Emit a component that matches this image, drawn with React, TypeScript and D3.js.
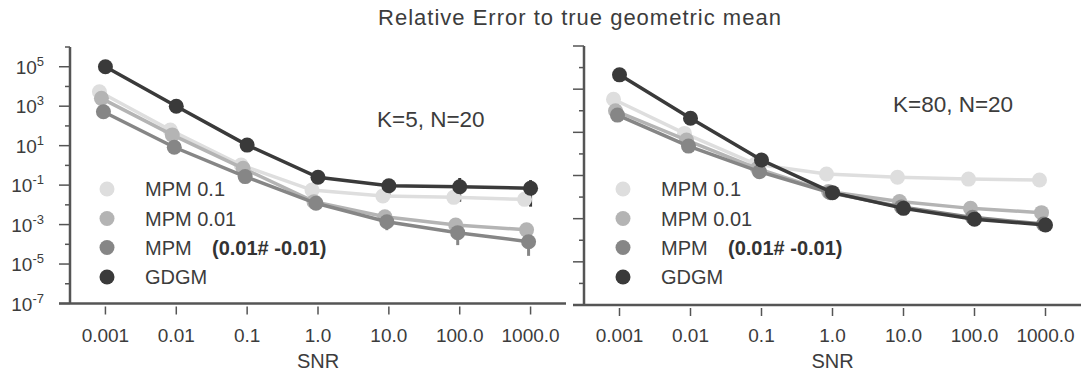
import * as d3 from "d3";
import { useEffect, useRef } from "react";

const snr = ["0.001", "0.01", "0.1", "1.0", "10.0", "100.0", "1000.0"];
const seriesNames = ["MPM 0.1", "MPM 0.01", "MPM", "GDGM"];
const seriesColors = ["#dedede", "#b4b4b4", "#868686", "#3a3a3a"];

// K=5, N=20
const k5Mpm01 = [5.4e3, 62, 1.05, 0.056, 0.028, 0.024, 0.019];
const k5Mpm001 = [2.5e3, 35, 0.71, 0.0145, 0.0025, 9.5e-4, 5.4e-4];
const k5MpmDiff = [525, 8.3, 0.27, 0.012, 1.4e-3, 3.9e-4, 1.35e-4];
const k5Gdgm = [1e5, 1e3, 10.7, 0.25, 0.093, 0.083, 0.069];
const k5GdgmLo = [null, null, null, null, 0.026, 0.0145, 0.0081];
const k5GdgmHi = [null, null, null, null, 0.18, 0.23, 0.18];
const k5DiffLo = [null, null, null, null, 5.2e-4, 9.1e-5, 2.6e-5];
const k5DiffHi = [null, null, null, null, 3.9e-3, 1.7e-3, 5.2e-4];

// K=80, N=20
const k80Mpm01 = [3.4e3, 89, 3.4, 1.17, 0.83, 0.68, 0.62];
const k80Mpm001 = [1e3, 44, 2.1, 0.18, 0.062, 0.03, 0.019];
const k80MpmDiff = [630, 23, 1.5, 0.16, 0.035, 0.0115, 0.0056];
const k80Gdgm = [4.6e4, 450, 5.2, 0.16, 0.03, 0.0095, 0.0051];

const leftExps = [5, 3, 1, -1, -3, -5, -7];

const FONT = "'Liberation Sans', Arial, sans-serif";
const TEXT = "#3c3c3c";
const AXIS = "#555";

type Panel = {
  label: string;
  series: number[][];
  errs: { idx: number; lo: (number | null)[]; hi: (number | null)[] }[];
  x0: number;
  x1: number;
  yTop: number;
  yBot: number;
  domain: [number, number];
  labels: boolean;
  labelPos: [number, number];
  legendX: number;
  boldX: number;
};

const panels: Panel[] = [
  {
    label: "K=5, N=20",
    series: [k5Mpm01, k5Mpm001, k5MpmDiff, k5Gdgm],
    errs: [
      { idx: 3, lo: k5GdgmLo, hi: k5GdgmHi },
      { idx: 2, lo: k5DiffLo, hi: k5DiffHi },
    ],
    x0: 70,
    x1: 566,
    yTop: 47,
    yBot: 303.5,
    domain: [1e-7, 1e6],
    labels: true,
    labelPos: [377, 127],
    legendX: 107,
    boldX: 212,
  },
  {
    label: "K=80, N=20",
    series: [k80Mpm01, k80Mpm001, k80MpmDiff, k80Gdgm],
    errs: [],
    x0: 584,
    x1: 1081,
    yTop: 46,
    yBot: 305,
    domain: [1e-6, 1e6],
    labels: false,
    labelPos: [893, 112],
    legendX: 623,
    boldX: 728,
  },
];

const dodge = [-6, -4, -2, 0];

export default function App() {
  const ref = useRef<SVGSVGElement>(null);

  useEffect(() => {
    if (!ref.current) return;
    const svg = d3.select(ref.current);
    svg.selectAll("*").remove();

    svg
      .append("text")
      .attr("x", 580)
      .attr("y", 25)
      .attr("text-anchor", "middle")
      .attr("font-size", 22)
      .attr("letter-spacing", 1)
      .attr("fill", TEXT)
      .text("Relative Error to true geometric mean");

    panels.forEach((p) => {
      const g = svg.append("g");
      const x = d3.scalePoint<string>().domain(snr).range([p.x0, p.x1]).padding(0.5);
      const y = d3.scaleLog().domain(p.domain).range([p.yBot, p.yTop]);
      const lo = Math.round(Math.log10(p.domain[0]));
      const hi = Math.round(Math.log10(p.domain[1]));
      const exps = d3.range(lo, hi + 1);
      const isMajor = (e: number) => (p.labels ? Math.abs(e % 2) === 1 : e % 2 === 0);

      // y ticks
      g.selectAll(".ytick")
        .data(exps)
        .enter()
        .append("line")
        .attr("x1", (e) => p.x0 - (isMajor(e) ? 11 : 5))
        .attr("x2", p.x0)
        .attr("y1", (e) => y(Math.pow(10, e)))
        .attr("y2", (e) => y(Math.pow(10, e)))
        .attr("stroke", AXIS)
        .attr("stroke-width", 1.5);

      if (p.labels) {
        const t = g
          .selectAll(".ylab")
          .data(leftExps)
          .enter()
          .append("text")
          .attr("x", 44)
          .attr("y", (e) => y(Math.pow(10, e)) + 7)
          .attr("text-anchor", "end")
          .attr("font-size", 19)
          .attr("fill", TEXT);
        t.append("tspan").text("10");
        t.append("tspan")
          .attr("dy", -8)
          .attr("font-size", 13)
          .text((e) => String(e));
      }

      // spines
      g.append("line")
        .attr("x1", p.x0)
        .attr("x2", p.x0)
        .attr("y1", p.yTop)
        .attr("y2", p.yBot)
        .attr("stroke", AXIS)
        .attr("stroke-width", 2.5);
      g.append("line")
        .attr("x1", p.x0 - 11)
        .attr("x2", p.x1)
        .attr("y1", p.yBot)
        .attr("y2", p.yBot)
        .attr("stroke", AXIS)
        .attr("stroke-width", 2.5);

      // x ticks
      g.selectAll(".xtick")
        .data(snr)
        .enter()
        .append("line")
        .attr("x1", (d) => x(d)!)
        .attr("x2", (d) => x(d)!)
        .attr("y1", p.yBot + 3)
        .attr("y2", p.yBot + 11)
        .attr("stroke", AXIS)
        .attr("stroke-width", 1.5);
      g.selectAll(".xlab")
        .data(snr)
        .enter()
        .append("text")
        .attr("x", (d) => x(d)!)
        .attr("y", 342)
        .attr("text-anchor", "middle")
        .attr("font-size", 19)
        .attr("fill", TEXT)
        .text((d) => d);
      g.append("text")
        .attr("x", x("1.0")!)
        .attr("y", 368)
        .attr("text-anchor", "middle")
        .attr("font-size", 20)
        .attr("fill", TEXT)
        .text("SNR");

      // annotation
      g.append("text")
        .attr("x", p.labelPos[0])
        .attr("y", p.labelPos[1])
        .attr("font-size", 22.5)
        .attr("fill", TEXT)
        .text(p.label);

      // error bars
      p.errs.forEach((er) => {
        snr.forEach((s, i) => {
          const a = er.lo[i];
          const b = er.hi[i];
          if (a == null || b == null) return;
          g.append("line")
            .attr("x1", x(s)! + dodge[er.idx])
            .attr("x2", x(s)! + dodge[er.idx])
            .attr("y1", y(a))
            .attr("y2", y(b))
            .attr("stroke", seriesColors[er.idx])
            .attr("stroke-width", 3);
        });
      });

      // series
      p.series.forEach((vals, si) => {
        const line = d3
          .line<number>()
          .x((_, i) => x(snr[i])! + dodge[si])
          .y((v) => y(v));
        g.append("path")
          .attr("d", line(vals))
          .attr("fill", "none")
          .attr("stroke", seriesColors[si])
          .attr("stroke-width", 3.5);
        g.selectAll(".pt" + si)
          .data(vals)
          .enter()
          .append("circle")
          .attr("cx", (_, i) => x(snr[i])! + dodge[si])
          .attr("cy", (v) => y(v))
          .attr("r", 7.5)
          .attr("fill", seriesColors[si]);
      });

      // legend
      const rows = [189, 218.5, 247.5, 277];
      seriesNames.forEach((name, i) => {
        g.append("circle")
          .attr("cx", p.legendX)
          .attr("cy", rows[i])
          .attr("r", 7.5)
          .attr("fill", seriesColors[i]);
        g.append("text")
          .attr("x", p.legendX + 38)
          .attr("y", rows[i] + 7)
          .attr("font-size", 20)
          .attr("fill", TEXT)
          .text(name);
      });
      g.append("text")
        .attr("x", p.boldX)
        .attr("y", rows[2] + 7)
        .attr("font-size", 20)
        .attr("font-weight", "bold")
        .attr("fill", "#333")
        .text("(0.01# -0.01)");
    });
  }, []);

  return (
    <svg
      ref={ref}
      width={1081}
      height={377}
      style={{ position: "absolute", left: 0, top: 0, background: "#fff", fontFamily: FONT }}
    />
  );
}
